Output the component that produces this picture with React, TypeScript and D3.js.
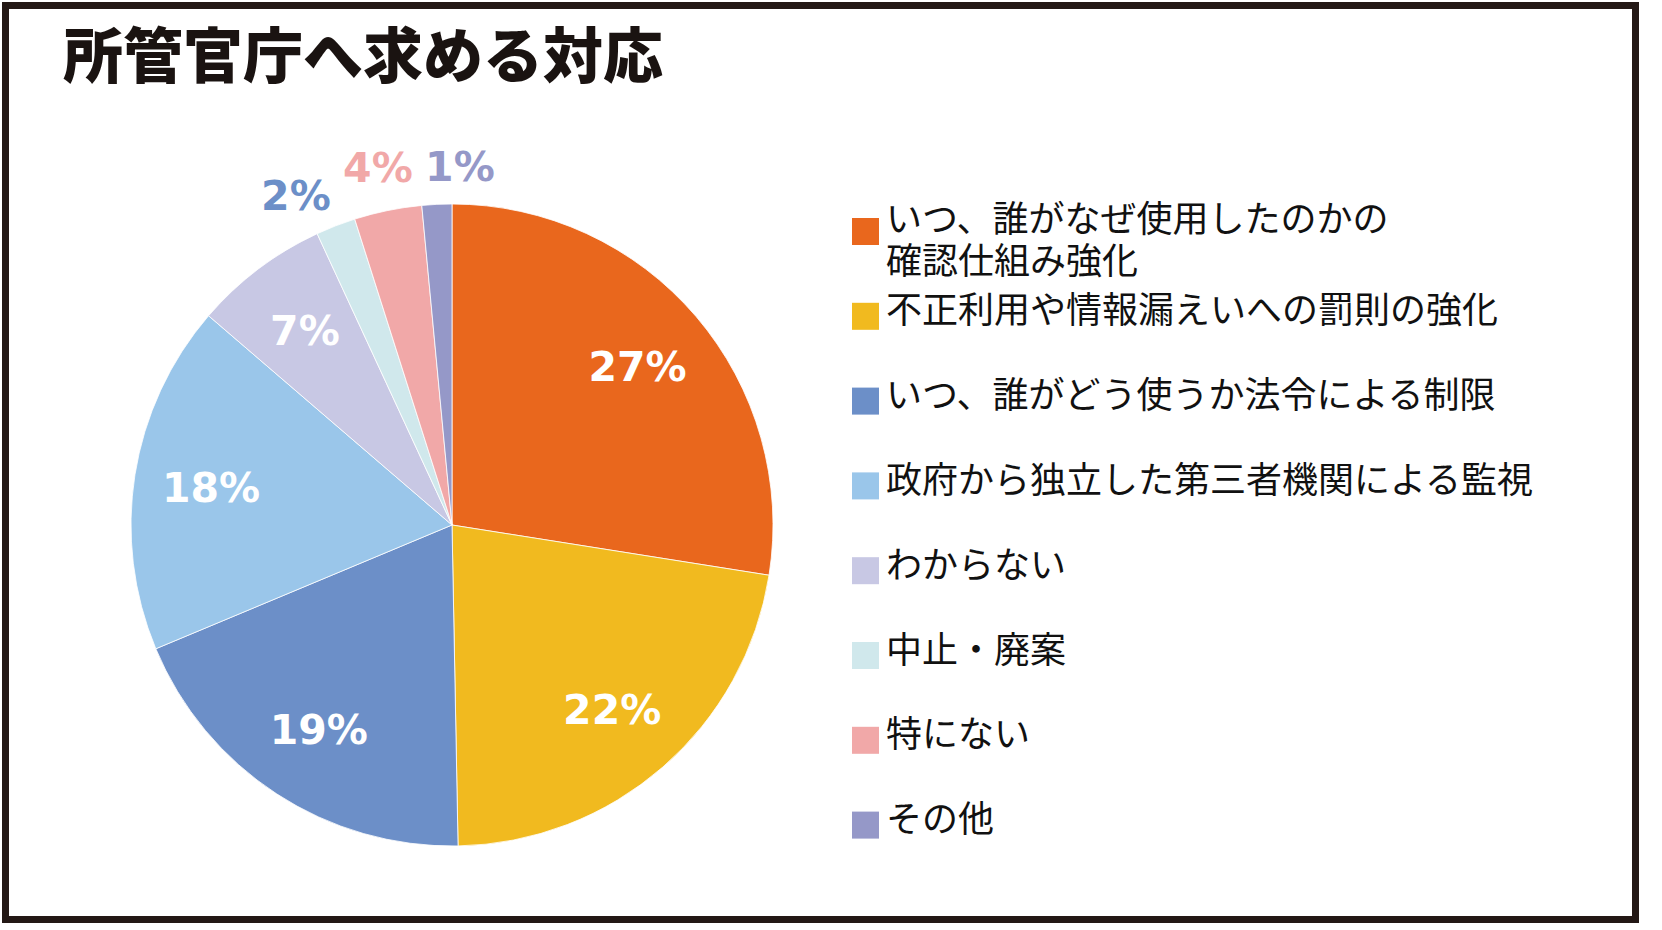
import { useEffect, useRef } from 'react';
import * as d3 from 'd3';

// 回答の区分
const categories = [
  'いつ、誰がなぜ使用したのかの\n確認仕組み強化',
  '不正利用や情報漏えいへの罰則の強化',
  'いつ、誰がどう使うか法令による制限',
  '政府から独立した第三者機関による監視',
  'わからない',
  '中止・廃案',
  '特にない',
  'その他',
];

// 割合（％）
const values = [27.5, 22.2, 19.0, 17.6, 6.8, 2.0, 3.4, 1.5];

// 表示ラベル
const labels = ['27%', '22%', '19%', '18%', '7%', '2%', '4%', '1%'];

const colors = [
  '#E9671D',
  '#F1BA1F',
  '#6C8FC8',
  '#9AC6EA',
  '#C8C8E4',
  '#D0E8EC',
  '#F1A8A8',
  '#9598C8',
];

// 外側ラベルの文字色
const outerLabelColors = ['#6C8FC8', '#F1A8A8', '#9598C8'];

const title = '所管官庁へ求める対応';

const W = 1662;
const H = 930;

const App = () => {
  const svgRef = useRef<SVGSVGElement>(null);

  useEffect(() => {
    const svg = d3.select(svgRef.current);
    svg.selectAll('*').remove();

    svg.append('rect').attr('width', W).attr('height', H).attr('fill', '#fff');

    // 枠線
    svg
      .append('rect')
      .attr('x', 5.5)
      .attr('y', 5.5)
      .attr('width', 1630)
      .attr('height', 914)
      .attr('fill', 'none')
      .attr('stroke', '#231815')
      .attr('stroke-width', 7);

    // タイトル
    svg
      .append('text')
      .attr('x', 63)
      .attr('y', 51)
      .attr('dominant-baseline', 'central')
      .attr('fill', '#1a1311')
      .style('font-family', '"Noto Sans CJK JP", sans-serif')
      .style('font-size', '60px')
      .style('font-weight', 900)
      .text(title);

    // 円グラフ
    const cx = 452;
    const cy = 525;
    const r = 321;

    const g = svg.append('g').attr('transform', `translate(${cx},${cy})`);

    const pie = d3
      .pie<number>()
      .sort(null)
      .value((d) => d);
    const arcs = pie(values);

    const arc = d3.arc<d3.PieArcDatum<number>>().innerRadius(0).outerRadius(r);

    g.selectAll('path.slice')
      .data(arcs)
      .enter()
      .append('path')
      .attr('class', 'slice')
      .attr('d', arc)
      .attr('fill', (_, i) => colors[i])
      .attr('stroke', '#fff')
      .attr('stroke-width', 0.8);

    const labelFont = '"DejaVu Sans", Verdana, sans-serif';
    const fontSize = 41;

    // 内側ラベル
    const innerArc = d3
      .arc<d3.PieArcDatum<number>>()
      .innerRadius(r * 0.76)
      .outerRadius(r * 0.76);

    arcs.forEach((a, i) => {
      if (values[i] < 5) return;
      const [x, y] = innerArc.centroid(a);
      g.append('text')
        .attr('x', x)
        .attr('y', y)
        .attr('dy', '0.36em')
        .attr('text-anchor', 'middle')
        .attr('fill', '#fff')
        .style('font-family', labelFont)
        .style('font-size', `${fontSize}px`)
        .style('font-weight', 'bold')
        .text(labels[i]);
    });

    // 外側ラベル（重なりを避けて横に広げる）
    const R = r * 1.137;
    const outer = arcs
      .map((a, i) => ({ i, angle: (a.startAngle + a.endAngle) / 2 }))
      .filter((d) => values[d.i] < 5)
      .map((d) => ({ ...d, x: R * Math.sin(d.angle) }))
      .sort((a, b) => a.x - b.x);

    const minGap = 82;
    for (let k = 0; k < 300; k++) {
      for (let j = 0; j < outer.length - 1; j++) {
        const gap = outer[j + 1].x - outer[j].x;
        if (gap < minGap) {
          const push = (minGap - gap) / 2;
          outer[j].x -= push;
          outer[j + 1].x += push;
        }
      }
    }

    // 一番上のラベルは隣と同じ高さに揃える
    const topY = -R * 0.982;
    outer.forEach((d, k) => {
      const y = Math.max(topY, -Math.sqrt(Math.max(0, R * R - d.x * d.x)));
      g.append('text')
        .attr('x', d.x)
        .attr('y', y)
        .attr('dy', '0.36em')
        .attr('text-anchor', 'middle')
        .attr('fill', outerLabelColors[k])
        .style('font-family', labelFont)
        .style('font-size', `${fontSize}px`)
        .style('font-weight', 'bold')
        .text(labels[d.i]);
    });

    // 凡例
    const legendY = d3
      .scaleLinear()
      .domain([0, categories.length - 1])
      .range([231.5, 231.5 + 84.8 * (categories.length - 1)]);

    const legend = svg.append('g');
    categories.forEach((c, i) => {
      const y = legendY(i);
      legend
        .append('rect')
        .attr('x', 852)
        .attr('y', y - 13.5)
        .attr('width', 27)
        .attr('height', 27)
        .attr('fill', colors[i]);

      const lines = c.split('\n');
      const firstY = lines.length > 1 ? y - 16 : y - 9;
      const text = legend
        .append('text')
        .attr('fill', '#111')
        .style('font-family', '"Noto Sans CJK JP", sans-serif')
        .style('font-size', '36px');
      lines.forEach((line, li) => {
        text
          .append('tspan')
          .attr('x', 886)
          .attr('y', firstY + li * 42.5)
          .attr('dominant-baseline', 'central')
          .text(line);
      });
    });
  }, []);

  return (
    <div>
      <style>{'body{margin:0}'}</style>
      <svg ref={svgRef} width={W} height={H} style={{ display: 'block' }}></svg>
    </div>
  );
};

export default App;
